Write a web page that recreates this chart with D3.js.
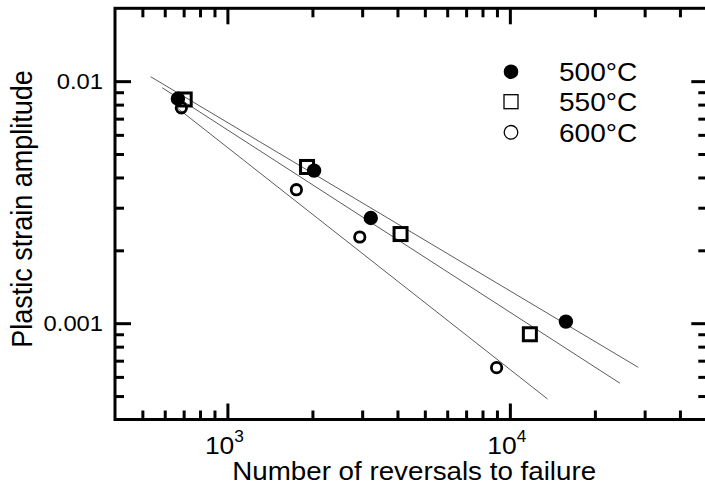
<!DOCTYPE html>
<html><head><meta charset="utf-8">
<script src="https://cdn.jsdelivr.net/npm/d3@7"></script>
<style>html,body{margin:0;padding:0;background:#fff;} svg{display:block;} text{font-family:"Liberation Sans",Arial,sans-serif;fill:#000;}</style>
</head><body>
<svg id="c" width="705" height="494"></svg>
<script>
// ---- data ----
const seriesNames = ["500°C", "550°C", "600°C"];
const cycles500 = [668, 2027, 3218, 15790];
const strain500 = [0.00846, 0.00427, 0.00272, 0.001015];
const cycles550 = [706, 1914, 4102, 11771];
const strain550 = [0.0084, 0.00442, 0.002335, 0.0009];
const cycles600 = [687, 1755, 2942, 8974];
const strain600 = [0.00776, 0.00356, 0.00227, 0.000655];
// fitted lines (start / end points)
const fitCyclesStart = [535, 588, 667];
const fitStrainStart = [0.01043, 0.00939, 0.00772];
const fitCyclesEnd = [28480, 24520, 13600];
const fitStrainEnd = [0.000657, 0.000565, 0.000486];
// ticks
const xMajorTicks = [1000, 10000];
const xMajorLabels = [["10","3"], ["10","4"]];
const xMinorTicks = [500,600,700,800,900,2000,3000,4000,5000,6000,7000,8000,9000,20000,30000,40000];
const yMajorTicks = [0.001, 0.01];
const yMajorLabels = ["0.001", "0.01"];
const yMinorTicks = [0.0005,0.0006,0.0007,0.0008,0.0009,0.002,0.003,0.004,0.005,0.006,0.007,0.008,0.009];
const xTitle = "Number of reversals to failure";
const yTitle = "Plastic strain amplitude";

// ---- layout ----
const L = 115, R = 707.3, T = 8.3, B = 419.5;
const SX = 1.08; // horizontal text stretch
const svg = d3.select("#c");
const x = d3.scaleLog().domain([400, 50000]).range([L, R]);
const y = d3.scaleLog().domain([4e-4, 2e-2]).range([B, T]);

// fit lines
const fitG = svg.append("g");
for (let i = 0; i < 3; i++) {
  fitG.append("line")
    .attr("x1", x(fitCyclesStart[i])).attr("y1", y(fitStrainStart[i]))
    .attr("x2", x(fitCyclesEnd[i])).attr("y2", y(fitStrainEnd[i]))
    .attr("stroke", "#4a4a4a").attr("stroke-width", 0.9);
}

// axes ticks
function drawAxis(gen, tx, ty) {
  const g = svg.append("g").attr("transform", `translate(${tx},${ty})`).call(gen);
  g.select(".domain").remove();
  g.selectAll(".tick line").attr("stroke", "#000").attr("stroke-width", 3);
  g.selectAll(".tick text").remove();
}
const MAJ = 16, MIN = 9;
drawAxis(d3.axisBottom(x).tickValues(xMajorTicks).tickSize(-MAJ).tickFormat(""), 0, B);
drawAxis(d3.axisBottom(x).tickValues(xMinorTicks).tickSize(-MIN).tickFormat(""), 0, B);
drawAxis(d3.axisTop(x).tickValues(xMajorTicks).tickSize(-MAJ).tickFormat(""), 0, T);
drawAxis(d3.axisTop(x).tickValues(xMinorTicks).tickSize(-MIN).tickFormat(""), 0, T);
drawAxis(d3.axisLeft(y).tickValues(yMajorTicks).tickSize(-MAJ).tickFormat(""), L, 0);
drawAxis(d3.axisLeft(y).tickValues(yMinorTicks).tickSize(-MIN).tickFormat(""), L, 0);
drawAxis(d3.axisRight(y).tickValues(yMajorTicks).tickSize(-MAJ).tickFormat(""), R, 0);
drawAxis(d3.axisRight(y).tickValues(yMinorTicks).tickSize(-MIN).tickFormat(""), R, 0);

// frame
svg.append("rect").attr("x", L).attr("y", T).attr("width", R - L).attr("height", B - T)
  .attr("fill", "none").attr("stroke", "#000").attr("stroke-width", 3);

// tick labels
function stretchedText(px, py, anchor) {
  return svg.append("g").attr("transform", `translate(${px},${py}) scale(${SX},1)`)
    .append("text").attr("text-anchor", anchor);
}
yMajorTicks.forEach((v, i) => {
  stretchedText(L - 12, y(v) + 7.8, "end").attr("font-size", 22).text(yMajorLabels[i]);
});
xMajorTicks.forEach((v, i) => {
  const t = stretchedText(x(v) - 3, 454, "middle").attr("font-size", 24.5);
  t.append("tspan").text(xMajorLabels[i][0]);
  t.append("tspan").attr("font-size", 16).attr("dy", -12).text(xMajorLabels[i][1]);
});

// axis titles
stretchedText((L + R) / 2 + 3, 480, "middle").attr("font-size", 25.7).text(xTitle);
svg.append("g").attr("transform", `translate(31.5,209) rotate(-90) scale(1,${SX})`)
  .append("text").attr("text-anchor", "middle").attr("font-size", 27).text(yTitle);

// markers
const sq = 13;
const data500 = cycles500.map((c, i) => [c, strain500[i]]);
const data550 = cycles550.map((c, i) => [c, strain550[i]]);
const data600 = cycles600.map((c, i) => [c, strain600[i]]);
svg.append("g").selectAll("rect").data(data550).join("rect")
  .attr("x", d => x(d[0]) - sq / 2).attr("y", d => y(d[1]) - sq / 2)
  .attr("width", sq).attr("height", sq)
  .attr("fill", "none").attr("stroke", "#000").attr("stroke-width", 3);
svg.append("g").selectAll("circle").data(data500).join("circle")
  .attr("cx", d => x(d[0])).attr("cy", d => y(d[1])).attr("r", 7.2).attr("fill", "#000");
svg.append("g").selectAll("circle").data(data600).join("circle")
  .attr("cx", d => x(d[0])).attr("cy", d => y(d[1])).attr("r", 5.2)
  .attr("fill", "none").attr("stroke", "#000").attr("stroke-width", 2.8);

// legend
const legX = 511, legY = [71.7, 101.7, 132.3], legTX = 559;
svg.append("circle").attr("cx", legX).attr("cy", legY[0]).attr("r", 7.3).attr("fill", "#000");
svg.append("rect").attr("x", legX - 7).attr("y", legY[1] - 7).attr("width", 14).attr("height", 14)
  .attr("fill", "none").attr("stroke", "#000").attr("stroke-width", 1.3);
svg.append("circle").attr("cx", legX).attr("cy", legY[2]).attr("r", 6.8)
  .attr("fill", "none").attr("stroke", "#000").attr("stroke-width", 1.3);
seriesNames.forEach((n, i) => {
  stretchedText(legTX, legY[i] + 9.5, "start").attr("font-size", 26).text(n);
});
</script>
</body></html>
